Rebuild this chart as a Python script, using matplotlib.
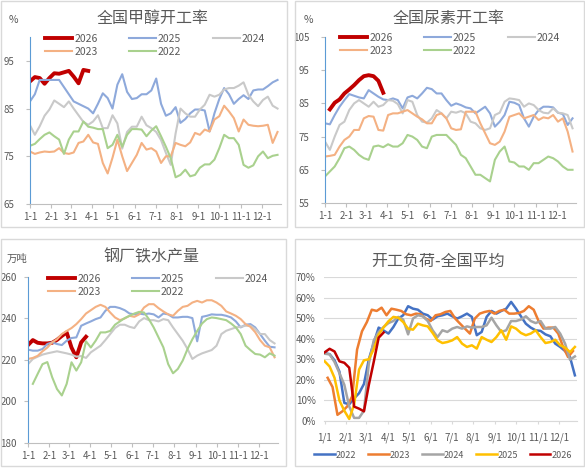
import numpy as np
import matplotlib
matplotlib.use('Agg')
import matplotlib.pyplot as plt
from matplotlib.patches import Rectangle

plt.rcParams['font.family'] = ['Noto Sans CJK SC', 'DejaVu Sans']

W, H = 585, 468

# ---- data: weekly values ----
month_labels_dash = ['1-1', '2-1', '3-1', '4-1', '5-1', '6-1', '7-1', '8-1', '9-1', '10-1', '11-1', '12-1']
month_labels_slash = ['1/1', '2/1', '3/1', '4/1', '5/1', '6/1', '7/1', '8/1', '9/1', '10/1', '11/1', '12/1']
month_days = [0, 31, 59, 90, 120, 151, 181, 212, 243, 273, 304, 334]

# 全国甲醇开工率
meth_2026 = [90.7, 91.6, 91.4, 90.2, 91.4, 92.4, 92.3, 92.6, 92.9, 91.7, 90.3, 93.1, 92.9]
meth_2025 = [86.5, 88, 91, 91, 91, 91, 91, 89.5, 88, 86.5, 86, 85.5, 85, 84, 86, 88.2, 87.2, 85,
             90, 92.2, 88.5, 87, 87.2, 88, 88, 88.8, 91.3, 86, 83.5, 84, 85.3, 82, 82.8, 84, 84.8,
             84.8, 84.6, 80.2, 84, 87, 89.3, 88, 86, 87, 87.8, 87, 88.8, 89, 89, 89.7, 90.5, 91]
meth_2024 = [81.5, 79.5, 81.3, 83.5, 84.8, 86.7, 86, 85.3, 86.5, 85, 83.6, 82.2, 81.6, 82.3, 83.6,
             80.9, 80.9, 83.6, 81.9, 76.6, 80.1, 81.2, 81.2, 83.3, 81.5, 80.9, 80.1, 78.4, 75.7, 73.2,
             79.8, 85, 84, 83.3, 83.3, 84.8, 85.8, 87.9, 87.5, 87.9, 89, 89.3, 89.3, 89.8, 90.5, 87.9,
             86.5, 85.5, 86.8, 87.5, 85.6, 85]
meth_2023 = [76, 75.5, 75.8, 76, 75.9, 76, 76.7, 75.7, 75.5, 75.8, 77.8, 78.1, 79.5, 77.9, 77.6,
             73.6, 71.4, 74.7, 78.5, 75, 71.9, 73.6, 75.3, 77.8, 76.4, 76.7, 76, 73.6, 75, 75, 77.8,
             77.4, 77.1, 77.9, 79.9, 79.5, 80.6, 80.2, 82.7, 83.4, 85.6, 84.4, 83, 80.2, 82.7, 81.6,
             81.4, 81.3, 81.4, 81.6, 77.8, 80.1]
meth_2022 = [77.2, 77.6, 78.6, 79.5, 80, 79.2, 78.5, 75.5, 78.5, 80.2, 80.2, 82.3, 81.2, 81, 80.7,
             80.7, 76.7, 77.4, 79.5, 77, 79.5, 80.7, 80.7, 80.6, 79.2, 80.4, 81.3, 79.2, 77, 74.6,
             70.6, 71.1, 72.2, 70.8, 71.1, 72.6, 73.3, 73.3, 74.3, 76.7, 79.5, 78.8, 78.8, 77.4, 73.2,
             72.6, 73.1, 75, 76, 74.6, 75.1, 75.3]

# 全国尿素开工率
urea_2026 = [83.2, 85.2, 86.2, 88, 89.2, 90.5, 92, 93.2, 93.5, 93.2, 91.8, 88.2]
urea_2025 = [79, 78.7, 81.5, 84, 86, 87.8, 87.3, 86.8, 86.5, 89, 88, 87, 86.2, 86, 86.5, 86, 83.5,
             86.8, 87.3, 86.5, 88, 89.7, 89.3, 88, 88, 86, 84.3, 85, 84.5, 83.8, 83.5, 82, 83, 84,
             82, 78, 79.5, 81.5, 85.5, 85.2, 84.5, 80.5, 78, 81, 83, 84, 84, 83.8, 82.2, 81.8, 78.5, 80.5]
urea_2024 = [73.5, 71, 75, 78.5, 79.5, 83, 85, 86, 85, 84, 85.5, 84, 84.5, 86, 85.8, 84.8, 82, 86,
             85.5, 81.5, 79.5, 79.2, 80.5, 83, 82, 80.5, 82.5, 82.2, 82.7, 82, 79.5, 79, 77.5, 77,
             77.5, 81.5, 82.2, 85.5, 86.5, 86.3, 86, 84, 85, 84.5, 83, 82.2, 82, 83.5, 82.2, 82, 81.5, 77.5]
urea_2023 = [69, 69.2, 69.5, 72, 74, 75, 77, 77, 80.5, 81.2, 81, 77, 76.8, 81.5, 82, 82, 82.5, 83,
             82, 81, 80.2, 79, 79, 81.5, 82, 80.5, 77.5, 77, 77.2, 82.5, 82.5, 82.5, 79, 76, 73, 72.5,
             73.5, 76.5, 81, 81.5, 82, 80.5, 81, 81.5, 80, 80.8, 80.5, 81.5, 79.5, 80.5, 76.5, 70.5]
urea_2022 = [63, 64.5, 66, 68.5, 71.5, 72, 71, 69.5, 68.5, 68, 72, 72.3, 71.8, 72.7, 72, 72, 73,
             75.5, 75, 74, 72, 71.5, 75, 75.5, 75.5, 75.5, 74, 72.5, 69.5, 68.5, 66, 63.5, 63.5, 62.5,
             61.5, 68, 70.5, 72, 67.5, 67.2, 66, 66, 65, 67, 67, 68, 69, 68.5, 67.5, 66, 65, 65]

# 钢厂铁水产量 (万吨)
iron_2026 = [227.2, 229.6, 228.3, 228, 228, 228.3, 229.7, 231.6, 233.3, 226, 221.3, 228.5, 231.2]
iron_2025 = [225, 224.5, 224.5, 225.3, 227.7, 228.5, 227.7, 227.2, 229.3, 230.6, 230.9, 236.5, 237.6,
             238.6, 239.7, 240.5, 243.7, 245.6, 245.6, 245, 244, 242.4, 242, 242.4, 242, 242.4, 242,
             240.5, 242.4, 242, 240.5, 240.5, 240.8, 240.8, 240.2, 229, 240.8, 241.3, 242, 241.8,
             241.8, 241.3, 240.5, 238.6, 235.7, 237, 237.3, 235.7, 232.5, 229.3, 226.4, 226.1]
iron_2024 = [218, 220.5, 221.6, 222.6, 223.2, 223.7, 224.2, 223.7, 223.2, 222.6, 221.6, 221.9, 221,
             223.7, 225.3, 226.9, 229.6, 232.5, 235.4, 237, 237, 236, 235.4, 238.6, 240.2, 239.2,
             239.2, 238.6, 239.7, 239.2, 235.7, 232.5, 229.3, 225.3, 220.5, 222.1, 223.2, 224, 224.8,
             226.9, 232.5, 234.1, 234.9, 235.7, 236, 236.5, 236.5, 234.9, 232.5, 232.5, 229.6, 228]
iron_2023 = [220.5, 221, 222, 224.2, 226, 228.5, 230, 232.5, 234, 235.4, 237.3, 239.7, 242.4, 244,
             245.6, 246.6, 245.6, 242.9, 240.5, 239.2, 240, 241.3, 240.8, 242, 245.3, 246.9, 246.9,
             245, 243.4, 242, 241.3, 243.7, 245.6, 246.1, 247.7, 248.5, 247.7, 248.8, 248.8, 247.7,
             246.1, 243.4, 242.4, 241.3, 239.7, 237.3, 236, 233.4, 229.6, 226.9, 226.1, 221.3]
iron_2022 = [208.5, 213.3, 218, 219, 211.7, 206, 202.9, 208.5, 218.9, 214.9, 218.9, 229, 226, 229.3,
             233.3, 233.3, 234, 237, 238.6, 240.2, 241.3, 242.4, 243.2, 242.9, 239.7, 235.7, 230.9,
             226.1, 218, 213.6, 215.7, 219.7, 225.3, 230, 234, 237.6, 239.7, 240.5, 240.2, 239.7,
             239.2, 237.6, 235.7, 232.5, 226.9, 224.8, 222.9, 222.6, 221.3, 223.2, 222.1]

# 开工负荷-全国平均 (%)
load_2022 = [33, 32.5, 29.5, 24, 8.8, 8.1, 11, 13.5, 18, 30, 38, 45.4, 44, 42.5, 45.7, 49.8, 51.4,
             55.8, 54.6, 54.1, 52.2, 51.4, 49.3, 50.9, 51.4, 52.2, 50.9, 49.8, 50.9, 52.2, 50.6, 41.7,
             43.3, 50.6, 53.5, 52.2, 53.5, 54.6, 57.9, 54.6, 50.9, 47.3, 45.4, 44.1, 43.8, 42.1, 41.2,
             37.6, 36, 34, 31.1, 22.2]
load_2023 = [21, 16.5, 3, 4.7, 7.1, 12, 34.7, 43.6, 48.1, 54.1, 53.5, 55.1, 51.4, 54.6, 54.1, 53.5,
             51.9, 51.4, 52.2, 51.9, 49.8, 48.6, 51.4, 51.9, 53, 53.5, 49.8, 47.3, 44.9, 42.5, 49.8,
             52.2, 53, 53.5, 52.2, 53.5, 54.1, 52.2, 52.2, 52.5, 53.5, 55.8, 54.1, 48.6, 44.9, 45.4,
             45.4, 42.5, 36, 31.1, 34]
load_2024 = [32.7, 32.4, 28.7, 23.3, 17.6, 7.1, 1.5, 1.5, 5, 27.9, 39.2, 43.3, 45.7, 47.6, 48.6,
             50.6, 49.3, 42.1, 49.8, 51.4, 50.9, 48.6, 44.1, 40.8, 44.1, 43.3, 44.9, 45.7, 44.9, 46,
             45.4, 45.7, 45.7, 46.5, 50.2, 46.5, 43.3, 44.1, 48.6, 48.6, 49.3, 50.9, 48.6, 47.6, 48.6,
             44.9, 44.9, 45.7, 42.5, 37.6, 29.8, 31.4]
load_2025 = [29, 26.5, 21, 10, 5, 1, 8, 25, 29.5, 30, 35, 42, 45.5, 48.5, 50.6, 50.2, 48.1, 44.9,
             44.4, 47.3, 46.5, 46, 42.8, 39.2, 37.9, 38.4, 39.2, 40.8, 37.6, 36, 36.8, 35.2, 40.8,
             39.5, 38.4, 40.8, 44.1, 39.5, 46, 44.9, 42.8, 41.7, 42.5, 44.1, 40.8, 37.9, 38.4, 39.5,
             36.8, 35.7, 33.5, 36]
load_2026 = [33.4, 35.1, 33.8, 29, 28.3, 25.9, 7, 6, 4.7, 17.6, 28.8, 40.5, 43]

C26, C25, C24, C23, C22 = '#C00000', '#8EA9DB', '#C9C9C9', '#F4B183', '#A9D18E'
TXT = '#595959'

fig = plt.figure(figsize=(W / 100, H / 100), dpi=100)


def rect(l, t, r, b):
    return [l / W, 1 - b / H, (r - l) / W, (b - t) / H]


def border(l, t, r, b):
    fig.patches.append(Rectangle((l / W, 1 - b / H), (r - l) / W, (b - t) / H,
                                 transform=fig.transFigure, fill=False,
                                 edgecolor='#D9D9D9', linewidth=1))


def weeks(vals, start=0, off=0.0):
    return (np.arange(len(vals)) + start + off) * 7


def year_panel(pos, ylim, yticks, series, title, tpos, unit, upos, lpos, ypad=8):
    ax = fig.add_axes(rect(*pos))
    for vals, start, c, lw, lab in series:
        ax.plot(weeks(vals, start), vals, color=c, lw=lw, label=lab, solid_joinstyle='round')
    ax.set_xlim(0, 362)
    ax.set_ylim(*ylim)
    ax.set_yticks(yticks)
    ax.set_xticks(month_days)
    ax.set_xticklabels(month_labels_dash)
    for s in ['top', 'right']:
        ax.spines[s].set_visible(False)
    ax.spines['left'].set_color('#5B9BD5')
    ax.spines['bottom'].set_color('#BFBFBF')
    ax.tick_params(axis='x', length=3, color='#BFBFBF', labelsize=7, labelcolor=TXT, pad=3)
    ax.tick_params(axis='y', length=3, color='#BFBFBF', labelsize=7, labelcolor=TXT, pad=ypad)
    ax.patch.set_alpha(0)
    fig.text(tpos[0] / W, 1 - tpos[1] / H, title, ha='center', va='center', fontsize=11.5, color=TXT)
    fig.text(upos[0] / W, 1 - upos[1] / H, unit, ha='left', va='center', fontsize=7.5, color=TXT)
    h, l = ax.get_legend_handles_labels()
    order = [0, 3, 1, 4, 2]
    ax.legend([h[i] for i in order], [l[i] for i in order], ncol=3, frameon=False,
              loc='upper left', bbox_to_anchor=(lpos[0] / W, 1 - lpos[1] / H),
              bbox_transform=fig.transFigure, fontsize=7.5, handlelength=2.6,
              handletextpad=0.2, columnspacing=3.0, labelspacing=0.25,
              borderpad=0, borderaxespad=0, labelcolor=TXT)
    return ax


# panel frames
border(1, 1, 287, 227)
border(295, 1, 584, 227)
border(1, 239, 286, 466)
border(295, 239, 584, 466)

year_panel((30, 37, 281, 204), (65, 100), [65, 75, 85, 95],
           [(meth_2026, 0, C26, 2.8, '2026'), (meth_2025, 0, C25, 1.5, '2025'),
            (meth_2024, 0, C24, 1.5, '2024'), (meth_2023, 0, C23, 1.5, '2023'),
            (meth_2022, 0, C22, 1.5, '2022')],
           '全国甲醇开工率', (153, 18), '%', (9, 20), (45, 34))

year_panel((325, 37, 576, 203), (55, 105), [55, 65, 75, 85, 95, 105],
           [(urea_2026, 1, C26, 2.8, '2026'), (urea_2025, 0, C25, 1.5, '2025'),
            (urea_2024, 0, C24, 1.5, '2024'), (urea_2023, 0, C23, 1.5, '2023'),
            (urea_2022, 0, C22, 1.5, '2022')],
           '全国尿素开工率', (449, 18), '%', (304, 20), (340, 33))

year_panel((28, 277, 278, 443), (180, 260), [180, 200, 220, 240, 260],
           [(iron_2026, 0, C26, 2.8, '2026'), (iron_2025, 0, C25, 1.5, '2025'),
            (iron_2024, 0, C24, 1.5, '2024'), (iron_2023, 0, C23, 1.5, '2023'),
            (iron_2022, 1, C22, 1.5, '2022')],
           '钢厂铁水产量', (151, 257), '万吨', (7, 259), (48, 274), ypad=5)

# panel 4
ax4 = fig.add_axes(rect(324, 277, 577, 421))
load_series = [(load_2022, 0, '#4472C4', '2022'), (load_2023, 0.6, '#ED7D31', '2023'),
               (load_2024, 0, '#A5A5A5', '2024'), (load_2025, 0, '#FFC000', '2025'),
               (load_2026, 0, '#C00000', '2026')]
for vals, off, c, lab in load_series:
    ax4.plot(weeks(vals, 0, off), np.array(vals) / 100, color=c, lw=1.8, label=lab)
ax4.set_xlim(-1, 360)
ax4.set_ylim(0, 0.7)
ax4.set_yticks(np.arange(0, 0.71, 0.1))
ax4.set_yticklabels([f'{int(round(v * 100))}%' for v in np.arange(0, 0.71, 0.1)])
ax4.set_xticks(month_days)
ax4.set_xticklabels(month_labels_slash)
ax4.grid(axis='y', color='#D9D9D9', lw=0.8)
ax4.set_axisbelow(True)
for s in ['top', 'right', 'left']:
    ax4.spines[s].set_visible(False)
ax4.spines['bottom'].set_color('#D9D9D9')
ax4.tick_params(axis='x', length=2, color='#D9D9D9', labelsize=7, labelcolor=TXT, pad=6)
ax4.tick_params(axis='y', length=0, labelsize=7, labelcolor=TXT, pad=6)
ax4.patch.set_alpha(0)
fig.text(438 / W, 1 - 261 / H, '开工负荷-全国平均', ha='center', va='center', fontsize=11.5, color=TXT)
ax4.legend(ncol=5, frameon=False, loc='center', bbox_to_anchor=(443 / W, 1 - 455 / H),
           bbox_transform=fig.transFigure, fontsize=6.5, handlelength=2.3, handletextpad=0.1,
           columnspacing=1.3, borderpad=0, labelcolor=TXT)

fig.savefig('out.png', dpi=100)
